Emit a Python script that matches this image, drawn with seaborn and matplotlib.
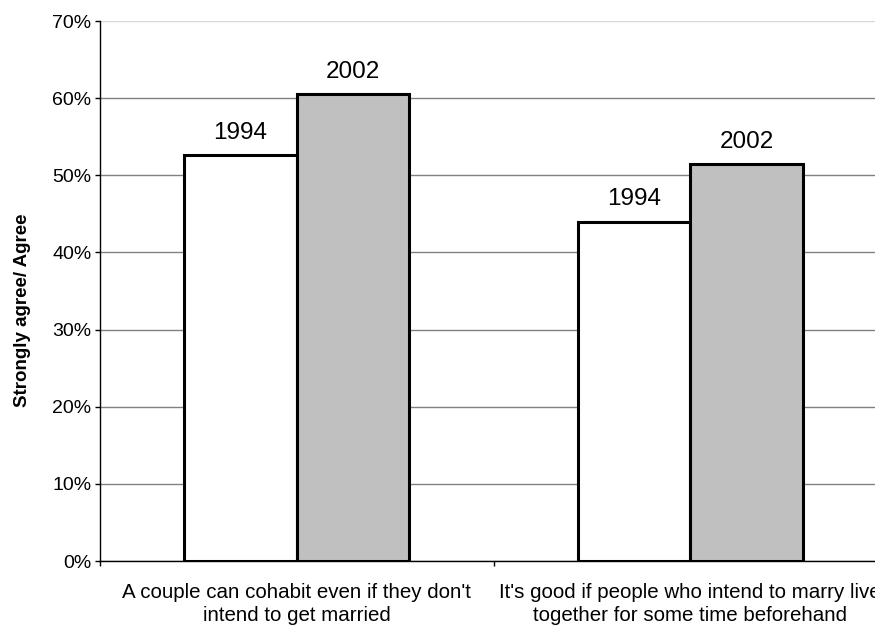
import matplotlib
matplotlib.use("Agg")
import matplotlib.pyplot as plt
import seaborn as sns
import pandas as pd
from matplotlib.ticker import FuncFormatter

categories = ["A couple can cohabit even if they don't\nintend to get married",
              "It's good if people who intend to marry live\ntogether for some time beforehand"]
years = ["1994", "2002"]
values_1994 = [52.6, 44.0]
values_2002 = [60.5, 51.5]

df = pd.DataFrame({
    "statement": categories * 2,
    "year": [years[0]] * 2 + [years[1]] * 2,
    "pct": values_1994 + values_2002,
})

sns.set_style("white")
plt.rcParams["font.family"] = ["Liberation Sans", "DejaVu Sans"]
plt.rcParams["text.color"] = "black"
plt.rcParams["axes.labelcolor"] = "black"
plt.rcParams["xtick.color"] = "black"
plt.rcParams["ytick.color"] = "black"

fig = plt.figure(figsize=(8.75, 6.27), dpi=100)
# axes runs past the right edge, like the clipped original
ax = fig.add_axes([100 / 875, 66 / 627, 787 / 875, 540 / 627])

sns.barplot(data=df, x="statement", y="pct", hue="year", order=categories,
            hue_order=years, palette={"1994": "white", "2002": "#C0C0C0"},
            width=0.572, gap=0, edgecolor="black", linewidth=2.2,
            legend=False, ax=ax)

# year labels above the bars
for cont, yr in zip(ax.containers, years):
    ax.bar_label(cont, labels=[yr] * len(cont), padding=8, fontsize=17.5, color="black")

ax.set_xlim(-0.5, 1.5)
ax.set_ylim(0, 70)
ax.set_yticks(range(0, 71, 10))
ax.yaxis.set_major_formatter(FuncFormatter(lambda v, p: f"{int(v)}%"))
ax.grid(axis="y", color="#808080", linewidth=1)
ax.set_axisbelow(True)
ax.get_ygridlines()[-1].set_color("#d8d8d8")

for s in ["top", "right"]:
    ax.spines[s].set_visible(False)
for s in ["left", "bottom"]:
    ax.spines[s].set_color("black")
    ax.spines[s].set_linewidth(1)

ax.tick_params(axis="y", which="major", left=True, length=3.6, width=1,
               color="black", pad=2.5, labelsize=14)
ax.set_xticks([-0.5, 0.5, 1.5], minor=True)
ax.tick_params(axis="x", which="minor", bottom=True, length=3.6, width=1, color="black")
ax.tick_params(axis="x", which="major", bottom=False, length=0, pad=16, labelsize=14.75)
for lbl in ax.get_xticklabels():
    lbl.set_linespacing(1.27)

ax.set_xlabel("")
ax.set_ylabel("Strongly agree/ Agree", fontsize=13.5, fontweight="bold")
ax.yaxis.set_label_coords(-0.088, 0.465)

fig.savefig("out.png", dpi=100)
